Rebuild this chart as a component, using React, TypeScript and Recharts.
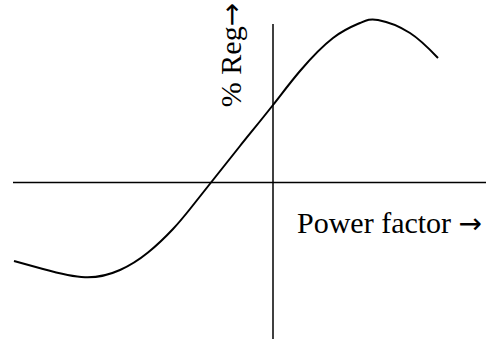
import { LineChart, Line, XAxis, YAxis, ReferenceLine } from 'recharts';

// sketch of voltage regulation vs power factor (arbitrary units)
const pf = [-2.59, -2.3, -1.88, -1.53, -1.25, -1.0, -0.83, -0.62, -0.33, 0, 0.27, 0.6, 0.87, 1.05, 1.37, 1.65];
const reg = [-0.785, -0.865, -0.948, -0.875, -0.7, -0.465, -0.265, 0, 0.365, 0.775, 1.115, 1.445, 1.595, 1.625, 1.495, 1.245];

// vertical axis drawn as a short two-point series
const axisPf = [0, 0];
const axisReg = [-2, 1.585];

const data = pf.map((x, i) => ({ pf: x, reg: reg[i] }));
const axisData = axisPf.map((x, i) => ({ pf: x, reg: axisReg[i] }));

const FONT = '"Liberation Serif", "Times New Roman", serif';
const ARROW = '"DejaVu Sans", sans-serif';

export default function App() {
  return (
    <div style={{ width: 489, height: 339, background: '#fff' }}>
      <style>{'body{margin:0}'}</style>
      <LineChart width={489} height={339} data={data} margin={{ top: 0, right: 3, bottom: 0, left: 13 }}>
        <XAxis type="number" dataKey="pf" domain={[-2.6, 2.13]} hide allowDuplicatedCategory={false} />
        <YAxis type="number" domain={[-1.565, 1.825]} hide allowDataOverflow />
        <ReferenceLine
          y={0}
          stroke="#000"
          strokeWidth={1.5}
          label={(props: any) => {
            const vb = props.viewBox;
            const cx = vb.x + 228;
            const cy = 55;
            return (
              <g>
                <text x={vb.x + 284} y={vb.y + 50.5} fontFamily={FONT} fontSize={30} fill="#000">
                  Power factor <tspan fontFamily={ARROW} fontSize={28}>→</tspan>
                </text>
                <text
                  x={cx}
                  y={cy}
                  textAnchor="middle"
                  transform={`rotate(-90 ${cx} ${cy})`}
                  fontFamily={FONT}
                  fontSize={30}
                  fill="#000"
                >
                  % Reg<tspan fontFamily={ARROW} fontSize={28}>→</tspan>
                </text>
              </g>
            );
          }}
        />
        <Line
          data={axisData}
          type="linear"
          dataKey="reg"
          stroke="#000"
          strokeWidth={1.5}
          dot={false}
          isAnimationActive={false}
        />
        <Line
          type="natural"
          dataKey="reg"
          stroke="#000"
          strokeWidth={2}
          dot={false}
          isAnimationActive={false}
        />
      </LineChart>
    </div>
  );
}
